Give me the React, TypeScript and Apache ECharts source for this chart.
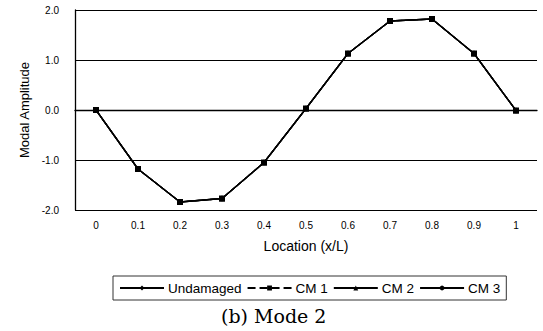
import React, { useEffect, useRef } from "react";
import * as echarts from "echarts";

const categories = ["0", "0.1", "0.2", "0.3", "0.4", "0.5", "0.6", "0.7", "0.8", "0.9", "1"];
const undamaged = [0.0, -1.18, -1.84, -1.77, -1.05, 0.03, 1.13, 1.78, 1.82, 1.13, -0.01];
const cm1 = [0.0, -1.18, -1.84, -1.77, -1.05, 0.03, 1.13, 1.78, 1.82, 1.13, -0.01];
const cm2 = [0.0, -1.18, -1.84, -1.77, -1.05, 0.03, 1.13, 1.78, 1.82, 1.13, -0.01];
const cm3 = [0.0, -1.18, -1.84, -1.77, -1.05, 0.03, 1.13, 1.78, 1.82, 1.13, -0.01];
const yTicks = ["-2.0", "-1.0", "0.0", "1.0", "2.0"];

export default function App() {
  const ref = useRef<HTMLDivElement>(null);
  useEffect(() => {
    if (!ref.current) return;
    const chart = echarts.init(ref.current, null, { renderer: "svg" });
    const font = "Liberation Sans, Arial, sans-serif";
    const mk = (name: string, data: number[], symbol: string, size: number, type: string) => ({
      name,
      type: "line",
      data,
      symbol,
      symbolSize: size,
      showSymbol: true,
      lineStyle: { color: "#000", width: 1.3, type },
      itemStyle: { color: "#000" },
    });
    chart.setOption({
      animation: false,
      backgroundColor: "#fff",
      grid: { left: 75, right: 6, top: 10, bottom: 121, containLabel: false },
      xAxis: {
        type: "category",
        data: categories,
        boundaryGap: true,
        axisLine: { lineStyle: { color: "#000", width: 1.3 } },
        axisTick: { show: false },
        axisLabel: { color: "#000", fontSize: 10, fontFamily: font, margin: 10 },
        name: "Location (x/L)",
        nameLocation: "middle",
        nameGap: 29,
        nameTextStyle: { color: "#000", fontSize: 14, fontFamily: font },
      },
      yAxis: {
        type: "value",
        min: -2,
        max: 2,
        interval: 1,
        axisLine: { show: true, lineStyle: { color: "#000", width: 1.3 } },
        axisTick: { show: false },
        splitLine: { show: true, lineStyle: { color: "#000", width: 1 } },
        axisLabel: {
          color: "#000",
          fontSize: 10,
          fontFamily: font,
          margin: 16,
          formatter: (v: number) => yTicks[Math.round(v) + 2] ?? v.toFixed(1),
        },
        name: "Modal Amplitude",
        nameLocation: "middle",
        nameGap: 43,
        nameTextStyle: { color: "#000", fontSize: 13, fontFamily: font },
      },
      legend: {
        left: 113,
        top: 276,
        width: 420,
        padding: [5, 6, 5, 6],
        borderColor: "#333",
        borderWidth: 1,
        itemWidth: 44,
        itemHeight: 6,
        itemGap: 5,
        textStyle: { color: "#000", fontSize: 13.5, fontFamily: font, padding: [0, 0, 0, -1] },
        data: ["Undamaged", "CM 1", "CM 2", "CM 3"],
      },
      series: [
        mk("Undamaged", undamaged, "diamond", 6, "solid"),
        mk("CM 1", cm1, "rect", 6, "dashed"),
        mk("CM 2", cm2, "triangle", 6, "solid"),
        mk("CM 3", cm3, "circle", 5, "solid"),
      ],
      graphic: [
        {
          type: "text",
          left: 221,
          top: 306,
          style: { text: "(b) Mode 2", fontSize: 19, fontFamily: "DejaVu Serif, serif", fill: "#000" },
        },
      ],
    });
    return () => chart.dispose();
  }, []);
  return <div ref={ref} style={{ width: 543, height: 331, position: "absolute", left: 0, top: 0 }} />;
}
